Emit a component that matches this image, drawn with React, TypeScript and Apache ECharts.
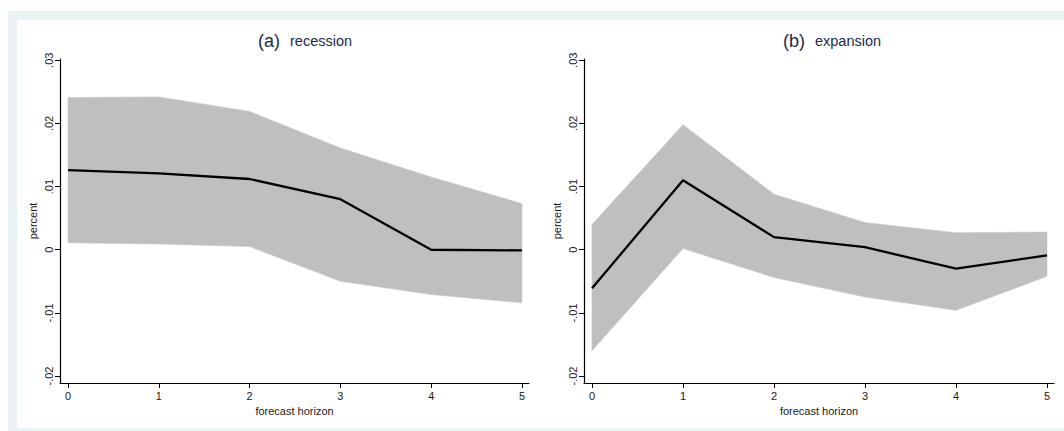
import React, { useEffect, useRef } from "react";
import * as echarts from "echarts";

// ---- data ----
const horizons = [0, 1, 2, 3, 4, 5];
const yTickValues = [-0.02, -0.01, 0, 0.01, 0.02, 0.03];

const recessionMid = [0.0126, 0.0121, 0.0112, 0.0080, 0.0000, -0.0001];
const recessionUpper = [0.0241, 0.0242, 0.0219, 0.0161, 0.0115, 0.0073];
const recessionLower = [0.0011, 0.0009, 0.0005, -0.0050, -0.0071, -0.0084];

const expansionMid = [-0.0061, 0.0110, 0.0020, 0.0004, -0.0030, -0.0009];
const expansionUpper = [0.0040, 0.0198, 0.0088, 0.0043, 0.0027, 0.0028];
const expansionLower = [-0.0160, 0.0002, -0.0044, -0.0075, -0.0096, -0.0042];

const panelTitles = [
  { tag: "(a)", name: "recession" },
  { tag: "(b)", name: "expansion" },
];
const xAxisTitle = "forecast horizon";
const yAxisTitle = "percent";

const FONT = "'Liberation Sans', Arial, Helvetica, sans-serif";
const AXIS_COLOR = "#000000";
const LABEL_COLOR = "#1a1a1a";
const TITLE_COLOR = "#1c2b4b";
const BAND_COLOR = "#bfbfbf";

function fmtY(v: number): string {
  if (Math.abs(v) < 1e-9) return "0";
  const s = Math.abs(v).toFixed(2).replace(/^0/, "");
  return (v < 0 ? "-" : "") + s;
}

function bandSeries(idx: number, lower: number[], upper: number[]) {
  return {
    type: "custom",
    xAxisIndex: idx,
    yAxisIndex: idx,
    silent: true,
    z: 1,
    data: [[0, 0]],
    renderItem: (_params: any, api: any) => {
      const pts: number[][] = [];
      for (let i = 0; i < horizons.length; i++) pts.push(api.coord([horizons[i], upper[i]]));
      for (let i = horizons.length - 1; i >= 0; i--) pts.push(api.coord([horizons[i], lower[i]]));
      return {
        type: "polygon",
        shape: { points: pts },
        style: { fill: BAND_COLOR, stroke: "#c8c8c8", lineWidth: 0.6 },
      };
    },
  };
}

function lineSeries(idx: number, mid: number[]) {
  return {
    type: "line",
    xAxisIndex: idx,
    yAxisIndex: idx,
    z: 3,
    showSymbol: false,
    symbol: "none",
    data: horizons.map((h, i) => [h, mid[i]]),
    lineStyle: { color: "#000000", width: 2.3 },
  };
}

function xAxisDef(gridIndex: number) {
  return {
    type: "value",
    gridIndex,
    min: -0.088,
    max: 5.077,
    name: xAxisTitle,
    nameLocation: "middle",
    nameGap: 18,
    nameTextStyle: { color: LABEL_COLOR, fontSize: 11, fontFamily: FONT },
    splitLine: { show: false },
    axisLine: { show: true, onZero: false, lineStyle: { color: AXIS_COLOR, width: 1.2 } },
    axisTick: { show: true, length: 5, customValues: horizons, lineStyle: { color: AXIS_COLOR, width: 1 } },
    axisLabel: {
      customValues: horizons,
      color: LABEL_COLOR,
      fontSize: 11,
      fontFamily: FONT,
      margin: 7,
      formatter: (v: number) => String(v),
    },
  };
}

function yAxisDef(gridIndex: number) {
  return {
    type: "value",
    gridIndex,
    min: -0.0211,
    max: 0.0302,
    name: yAxisTitle,
    nameLocation: "middle",
    nameGap: 22,
    nameRotate: 90,
    nameTextStyle: { color: LABEL_COLOR, fontSize: 11, fontFamily: FONT },
    splitLine: { show: false },
    axisLine: { show: true, onZero: false, lineStyle: { color: AXIS_COLOR, width: 1.2 } },
    axisTick: { show: true, length: 5, customValues: yTickValues, lineStyle: { color: AXIS_COLOR, width: 1 } },
    axisLabel: {
      customValues: yTickValues,
      rotate: 90,
      color: LABEL_COLOR,
      fontSize: 11,
      fontFamily: FONT,
      margin: 6,
      formatter: (v: number) => fmtY(v),
    },
  };
}

export default function App() {
  const ref = useRef<HTMLDivElement>(null);

  useEffect(() => {
    if (!ref.current) return;
    const chart = echarts.init(ref.current, undefined, { renderer: "svg" });
    const option: any = {
      animation: false,
      backgroundColor: "#ffffff",
      graphic: [
        { type: "rect", silent: true, z: -10, shape: { x: 8, y: 11, width: 1056, height: 420 }, style: { fill: "#eaf2f3" } },
        { type: "rect", silent: true, z: -9, shape: { x: 17, y: 20, width: 1047, height: 408 }, style: { fill: "#ffffff" } },
      ],
      title: panelTitles.map((t, i) => ({
        text: `{a|${t.tag}}{b|${t.name}}`,
        left: i === 0 ? 258 : 783,
        top: 32,
        padding: 0,
        textStyle: {
          fontWeight: "normal",
          rich: {
            a: { fontSize: 18, color: TITLE_COLOR, fontFamily: FONT, fontWeight: "normal" },
            b: { fontSize: 14.5, color: TITLE_COLOR, fontFamily: FONT, fontWeight: "normal", padding: [0, 0, 0, 10] },
          },
        },
      })),
      grid: [
        { left: 60, top: 59, width: 469, height: 324, containLabel: false },
        { left: 584, top: 59, width: 470, height: 324, containLabel: false },
      ],
      xAxis: [xAxisDef(0), xAxisDef(1)],
      yAxis: [yAxisDef(0), yAxisDef(1)],
      series: [
        bandSeries(0, recessionLower, recessionUpper),
        lineSeries(0, recessionMid),
        bandSeries(1, expansionLower, expansionUpper),
        lineSeries(1, expansionMid),
      ],
    };
    chart.setOption(option);
    return () => chart.dispose();
  }, []);

  return (
    <div
      ref={ref}
      style={{ position: "absolute", left: 0, top: 0, width: 1064, height: 431 }}
    />
  );
}
